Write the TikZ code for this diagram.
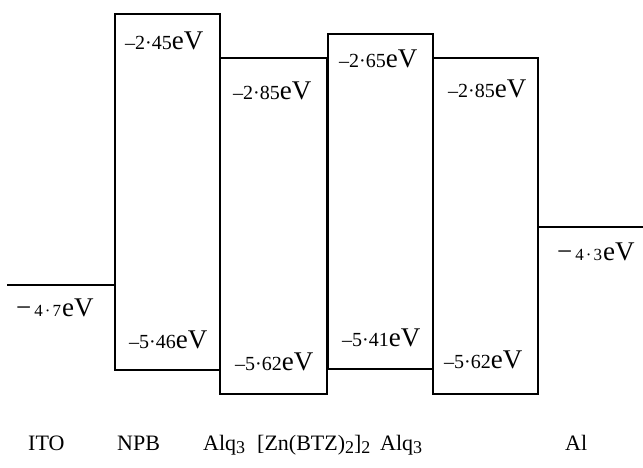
\documentclass[tikz,border=0pt]{standalone}
\usepackage{fontspec}
\setmainfont{Liberation Serif}
% energy value: small digits followed by a larger unit
\newcommand{\evlabel}[1]{{\fontsize{20}{20}\selectfont #1}{\fontsize{27}{27}\selectfont eV}}
% electrode value: long minus, spaced small digits
\newcommand{\wflabel}[2]{{\fontsize{27}{27}\selectfont −}\hspace{3pt}{\fontsize{17}{17}\selectfont #1\hspace{2pt}·\hspace{2pt}#2}\hspace{1pt}{\fontsize{27}{27}\selectfont eV}}
% large lowered index used in the layer names
\newcommand{\idx}[1]{\raisebox{-3pt}{\fontsize{18}{18}\selectfont #1}}
\begin{document}
\begin{tikzpicture}[x=1pt,y=-1pt,
  level/.style={line width=1.3pt,black},
  val/.style={anchor=base west,inner sep=0pt},
  layer/.style={anchor=base west,inner sep=0pt,font=\fontsize{22}{22}\selectfont}]
\useasboundingbox (0,0) rectangle (643,468);
% electrode work functions
\draw[level] (7,285) -- (115,285);
\draw[level] (538,227) -- (643,227);
% organic layers: HOMO/LUMO boxes
\draw[level] (115,14) rectangle (220,370);
\draw[level] (220,58) rectangle (327,394);
\draw[level] (328,34) rectangle (433,369);
\draw[level] (433,58) rectangle (538,394);
% energy values
\node[val] (ito)  at (16,316)  {\wflabel{4}{7}};
\node[val] (npbl) at (125,50)  {\evlabel{–2·45}};
\node[val] (npbh) at (129,348) {\evlabel{–5·46}};
\node[val] (alal) at (233,100) {\evlabel{–2·85}};
\node[val] (alah) at (235,370) {\evlabel{–5·62}};
\node[val] (znl)  at (339,68)  {\evlabel{–2·65}};
\node[val] (znh)  at (342,346) {\evlabel{–5·41}};
\node[val] (albl) at (448,98)  {\evlabel{–2·85}};
\node[val] (albh) at (444,368) {\evlabel{–5·62}};
\node[val] (al)   at (557,260) {\wflabel{4}{3}};
% layer names
\node[layer] (nito) at (28,450)  {ITO};
\node[layer] (nnpb) at (117,450) {NPB};
\node[layer] (nala) at (203,450) {Alq\idx{3}};
\node[layer] (nzn)  at (257,450) {[Zn(BTZ)\idx{2}]\idx{2}};
\node[layer] (nalb) at (380,450) {Alq\idx{3}};
\node[layer] (nal)  at (565,450) {Al};
\end{tikzpicture}
\end{document}
